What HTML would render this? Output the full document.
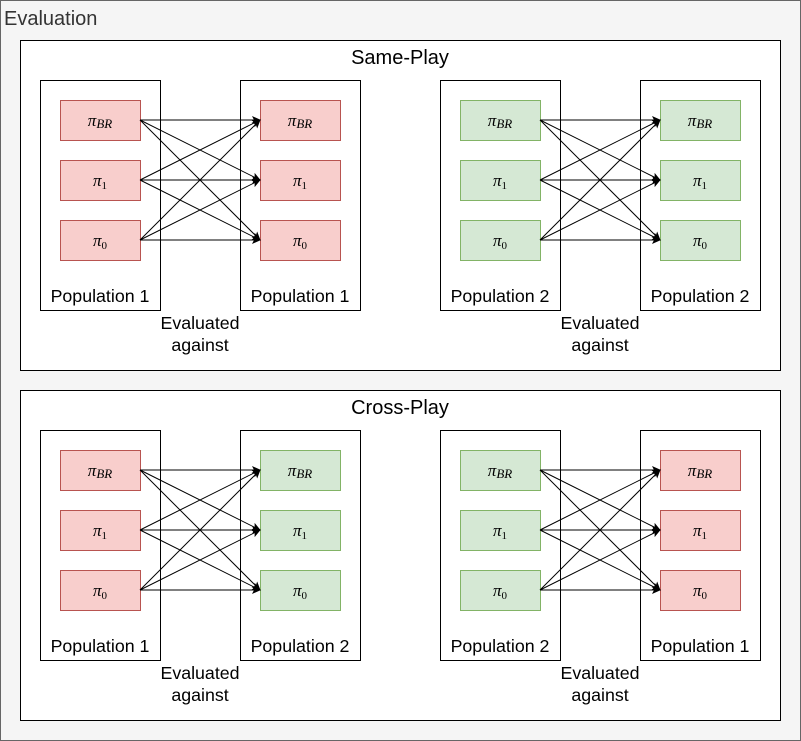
<!DOCTYPE html>
<html><head><meta charset="utf-8"><style>body{margin:0;background:#fff}svg{display:block}</style></head>
<body>
<svg width="801" height="741" viewBox="0 0 801 741" xmlns="http://www.w3.org/2000/svg" font-family="Liberation Sans, sans-serif">
<defs>
<marker id="a" markerWidth="10" markerHeight="10" refX="8" refY="5" orient="auto" markerUnits="userSpaceOnUse"><path d="M0,1 L9,5 L0,9 L2,5 Z" fill="#000"/></marker>
<g id="arrows" stroke="#000" stroke-width="1" fill="none" marker-end="url(#a)">
<line x1="140" y1="120" x2="260" y2="120"/><line x1="140" y1="120" x2="260" y2="180"/><line x1="140" y1="120" x2="260" y2="240"/>
<line x1="140" y1="180" x2="260" y2="120"/><line x1="140" y1="180" x2="260" y2="180"/><line x1="140" y1="180" x2="260" y2="240"/>
<line x1="140" y1="240" x2="260" y2="120"/><line x1="140" y1="240" x2="260" y2="180"/><line x1="140" y1="240" x2="260" y2="240"/>
</g>
<g id="red"><rect x="0.5" y="0.5" width="80" height="40" fill="#f8cecc" stroke="#b85450"/></g>
<g id="green"><rect x="0.5" y="0.5" width="80" height="40" fill="#d5e8d4" stroke="#82b366"/></g>
<g id="labels" font-family="Liberation Serif, serif" font-style="italic" font-size="17" text-anchor="middle">
<text x="40" y="26">π<tspan font-size="13" dy="2">BR</tspan></text>
<text x="40" y="86">π<tspan font-size="11" dy="3" font-style="normal">1</tspan></text>
<text x="40" y="146">π<tspan font-size="11" dy="3" font-style="normal">0</tspan></text>
</g>
</defs>
<rect x="0.5" y="0.5" width="800" height="740" fill="#f5f5f5" stroke="#666"/>
<text x="4" y="25" font-size="20" fill="#333">Evaluation</text>
<rect x="20.5" y="40.5" width="760" height="330" fill="#fff" stroke="#000"/>
<rect x="20.5" y="390.5" width="760" height="330" fill="#fff" stroke="#000"/>
<text x="400" y="64" font-size="20" text-anchor="middle">Same-Play</text>
<text x="400" y="414" font-size="20" text-anchor="middle">Cross-Play</text>
<g font-size="17.8" text-anchor="middle">
 <g transform="translate(0,0)">
  <rect x="40.5" y="80.5" width="120" height="230" fill="none" stroke="#000"/>
  <rect x="240.5" y="80.5" width="120" height="230" fill="none" stroke="#000"/>
  <use href="#red" x="60" y="100"/><use href="#red" x="60" y="160"/><use href="#red" x="60" y="220"/>
  <use href="#red" x="260" y="100"/><use href="#red" x="260" y="160"/><use href="#red" x="260" y="220"/>
  <use href="#labels" x="60" y="100"/><use href="#labels" x="260" y="100"/>
  <use href="#arrows"/>
  <text x="100" y="302">Population 1</text>
  <text x="300" y="302">Population 1</text>
  <text x="200" y="329">Evaluated</text>
  <text x="200" y="351">against</text>
 </g>
 <g transform="translate(400,0)">
  <rect x="40.5" y="80.5" width="120" height="230" fill="none" stroke="#000"/>
  <rect x="240.5" y="80.5" width="120" height="230" fill="none" stroke="#000"/>
  <use href="#green" x="60" y="100"/><use href="#green" x="60" y="160"/><use href="#green" x="60" y="220"/>
  <use href="#green" x="260" y="100"/><use href="#green" x="260" y="160"/><use href="#green" x="260" y="220"/>
  <use href="#labels" x="60" y="100"/><use href="#labels" x="260" y="100"/>
  <use href="#arrows"/>
  <text x="100" y="302">Population 2</text>
  <text x="300" y="302">Population 2</text>
  <text x="200" y="329">Evaluated</text>
  <text x="200" y="351">against</text>
 </g>
 <g transform="translate(0,350)">
  <rect x="40.5" y="80.5" width="120" height="230" fill="none" stroke="#000"/>
  <rect x="240.5" y="80.5" width="120" height="230" fill="none" stroke="#000"/>
  <use href="#red" x="60" y="100"/><use href="#red" x="60" y="160"/><use href="#red" x="60" y="220"/>
  <use href="#green" x="260" y="100"/><use href="#green" x="260" y="160"/><use href="#green" x="260" y="220"/>
  <use href="#labels" x="60" y="100"/><use href="#labels" x="260" y="100"/>
  <use href="#arrows"/>
  <text x="100" y="302">Population 1</text>
  <text x="300" y="302">Population 2</text>
  <text x="200" y="329">Evaluated</text>
  <text x="200" y="351">against</text>
 </g>
 <g transform="translate(400,350)">
  <rect x="40.5" y="80.5" width="120" height="230" fill="none" stroke="#000"/>
  <rect x="240.5" y="80.5" width="120" height="230" fill="none" stroke="#000"/>
  <use href="#green" x="60" y="100"/><use href="#green" x="60" y="160"/><use href="#green" x="60" y="220"/>
  <use href="#red" x="260" y="100"/><use href="#red" x="260" y="160"/><use href="#red" x="260" y="220"/>
  <use href="#labels" x="60" y="100"/><use href="#labels" x="260" y="100"/>
  <use href="#arrows"/>
  <text x="100" y="302">Population 2</text>
  <text x="300" y="302">Population 1</text>
  <text x="200" y="329">Evaluated</text>
  <text x="200" y="351">against</text>
 </g>
</g>
</svg>
</body></html>
